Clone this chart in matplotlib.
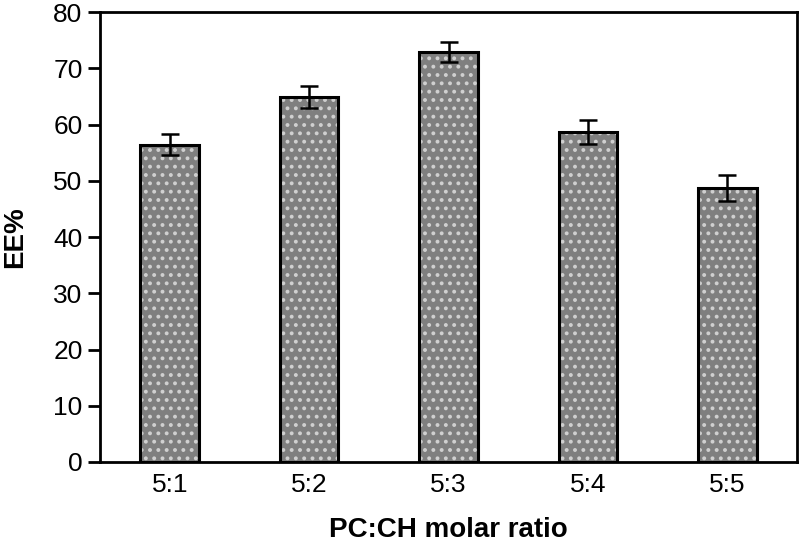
import matplotlib
matplotlib.use("Agg")
import matplotlib.pyplot as plt
import numpy as np

categories = ["5:1", "5:2", "5:3", "5:4", "5:5"]
ee_values = [56.4, 64.9, 72.9, 58.7, 48.7]
ee_errors = [1.9, 2.0, 1.8, 2.1, 2.3]
y_ticks = [0, 10, 20, 30, 40, 50, 60, 70, 80]

plt.rcParams['font.family'] = ['Liberation Sans', 'DejaVu Sans']
plt.rcParams['hatch.linewidth'] = 1.6

fig = plt.figure(figsize=(7.99, 5.47), dpi=100)
ax = fig.add_axes([0.1252, 0.1554, 0.8723, 0.8226])

x = np.arange(len(categories))
w = 0.42
# pattern layer
ax.bar(x, ee_values, width=w, color="#7f7f7f", edgecolor="#d0d0d0",
       hatch="..", linewidth=0, zorder=2)
# outline layer
ax.bar(x, ee_values, width=w, fill=False, edgecolor="black", linewidth=2.2, zorder=3)
ax.errorbar(x, ee_values, yerr=ee_errors, fmt="none", ecolor="black",
            elinewidth=1.8, capsize=6.5, capthick=1.8, zorder=4)

ax.set_xlim(-0.5, len(categories) - 0.5)
ax.set_ylim(0, 80)
ax.set_yticks(y_ticks)
ax.set_xticks(x)
ax.set_xticklabels(categories)
ax.tick_params(axis='y', direction='out', length=8.6, width=2, labelsize=19, pad=4)
ax.tick_params(axis='x', length=0, labelsize=19, pad=8)
for s in ax.spines.values():
    s.set_linewidth(2)
ax.set_xlabel("PC:CH molar ratio", fontsize=20, fontweight='bold', labelpad=14)
ax.set_ylabel("EE%", fontsize=20, fontweight='bold', labelpad=18)

fig.savefig("out.png", dpi=100)
